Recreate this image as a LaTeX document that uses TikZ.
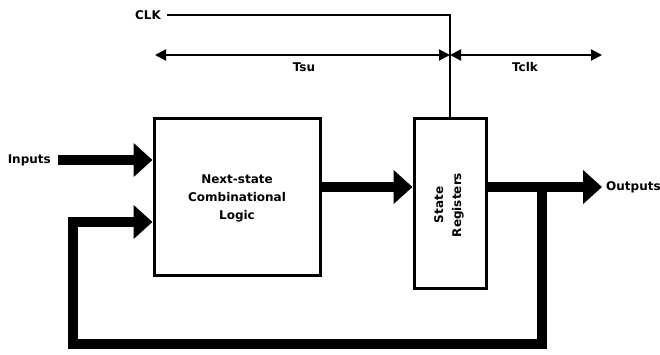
\documentclass[tikz,border=0pt]{standalone}
\usepackage{fontspec}
\setmainfont{DejaVu Sans}
\usetikzlibrary{arrows.meta}
\begin{document}
\begin{tikzpicture}[x=1pt,y=-1pt,
  lbl/.style={font=\bfseries\fontsize{12}{18}\selectfont, inner sep=0pt, align=center},
  blk/.style={draw, line width=3pt, inner sep=0pt},
  big/.style={line width=10.5pt, -{Triangle[length=19pt,width=33pt]}},
  thin/.style={line width=2pt},
  dim/.style={line width=2pt, {Triangle[length=11pt,width=11pt]}-{Triangle[length=11pt,width=11pt]}}]
\useasboundingbox (0,0) rectangle (660,354);
\node[blk, minimum width=166pt, minimum height=157pt] (comb) at (237,196.5) {};
\node[lbl] (combtxt) at (237,198) {Next-state\\Combinational\\Logic};
\node[blk, minimum width=72pt, minimum height=170pt] (reg) at (450,203) {};
\node[lbl, rotate=90] (regtxt) at (449,205) {State\\Registers};
\node[lbl, anchor=east] (in) at (51,160) {Inputs};
\node[lbl, anchor=west] (out) at (606,187) {Outputs};
\node[lbl, anchor=east] (clk) at (161,15) {CLK};
\node[lbl] (tsu) at (304,67) {Tsu};
\node[lbl] (tclk) at (525,67) {Tclk};
% CLK line
\coordinate (ck) at (reg.north |- 0,15);
\draw[thin] ([xshift=6pt]clk.east) -- (ck) -- (reg.north);
% dimension lines
\coordinate (d0) at (155,55);
\coordinate (d1) at (reg.north |- 0,55);
\coordinate (d2) at (602,55);
\draw[dim] (d0) -- (d1);
\draw[dim] (d1) -- (d2);
% thick arrows
\draw[big] ([xshift=7pt]in.east) -- (comb.west |- 0,160);
\draw[big] (comb.east |- 0,187) -- (reg.west |- 0,187);
\draw[big] (reg.east |- 0,187) -- ([xshift=-4pt]out.west);
\coordinate (fb) at (542,187);
\draw[line width=10.5pt, miter limit=10, -{Triangle[length=19pt,width=33pt]}] (fb) -- (542,344) -- (73,344) -- (73,222) -- (comb.west |- 0,222);
\end{tikzpicture}
\end{document}
